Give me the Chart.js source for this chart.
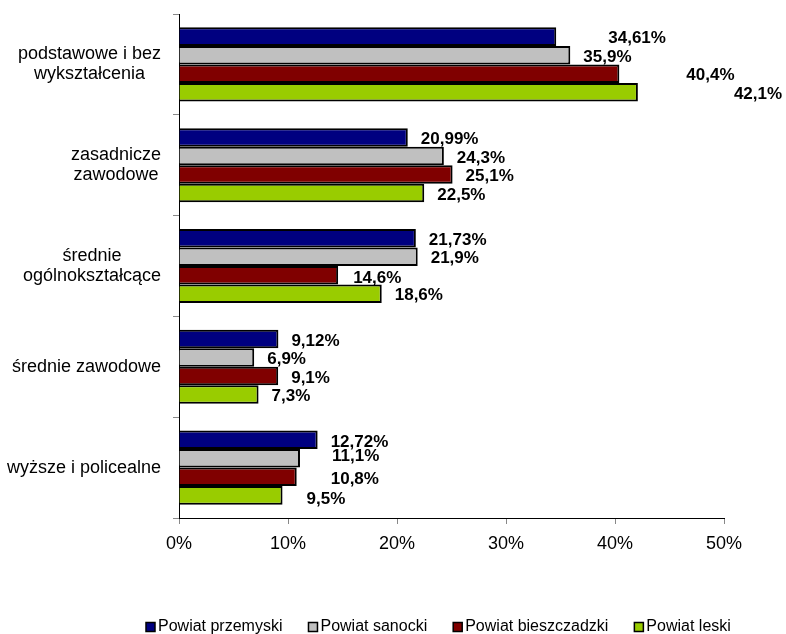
<!DOCTYPE html>
<html>
<head>
<meta charset="utf-8">
<script src="https://cdn.jsdelivr.net/npm/chart.js@4/dist/chart.umd.min.js"></script>
<style>
  html, body { margin: 0; padding: 0; background: #fff; }
  canvas { display: block; }
</style>
</head>
<body>
<canvas id="myChart" width="786" height="634"></canvas>
<script>
// categories (multi-line labels) and series
var categories = [
  ['podstawowe i bez', 'wykształcenia'],
  ['zasadnicze', 'zawodowe'],
  ['średnie', 'ogólnokształcące'],
  ['średnie zawodowe'],
  ['wyższe i policealne']
];
var seriesNames = ['Powiat przemyski', 'Powiat sanocki', 'Powiat bieszczadzki', 'Powiat leski'];
var przemyski    = [34.61, 20.99, 21.73, 9.12, 12.72];
var sanocki      = [35.9, 24.3, 21.9, 6.9, 11.1];
var bieszczadzki = [40.4, 25.1, 14.6, 9.1, 10.8];
var leski        = [42.1, 22.5, 18.6, 7.3, 9.5];
var xTicks = [0, 10, 20, 30, 40, 50];

var colors = ['#000080', '#C0C0C0', '#800000', '#99CC00'];
// extra nudges for the value labels (like the hand placed ones in the original)
var labelDx = [[39, 0, 0, 0, 0], [0, 0, 0, 0, 19], [54, 0, 2, 0, 21], [83, 0, 0, 0, 11]];
var labelDy = [[0, 0, 0, 0, 0], [0, 0, 0, 0, -4], [0, 0, 1, 0, 0], [0, 0, 0, 0, 2]];

var FONT = "'Liberation Sans', Arial, sans-serif";

function fmt(v) {
  return String(v).replace('.', ',') + '%';
}

var valueLabels = {
  id: 'valueLabels',
  afterDatasetsDraw: function(chart) {
    var ctx = chart.ctx;
    ctx.save();
    ctx.font = 'bold 17px ' + FONT;
    ctx.fillStyle = '#000';
    ctx.textAlign = 'left';
    ctx.textBaseline = 'middle';
    chart.data.datasets.forEach(function(ds, di) {
      var meta = chart.getDatasetMeta(di);
      meta.data.forEach(function(bar, i) {
        ctx.fillText(fmt(ds.data[i]), bar.x + 13 + labelDx[di][i], bar.y + 2 + labelDy[di][i]);
      });
    });
    ctx.restore();
  }
};

var catLabels = {
  id: 'catLabels',
  afterDraw: function(chart) {
    var ctx = chart.ctx;
    var yScale = chart.scales.y;
    ctx.save();
    ctx.font = '18px ' + FONT;
    ctx.fillStyle = '#000';
    ctx.textAlign = 'center';
    ctx.textBaseline = 'middle';
    var lh = 20;
    categories.forEach(function(lines, i) {
      var y = yScale.getPixelForValue(i);
      var maxW = 0;
      lines.forEach(function(l) { maxW = Math.max(maxW, ctx.measureText(l).width); });
      var cx = 161 - maxW / 2;
      var y0 = y - (lines.length - 1) * lh / 2;
      lines.forEach(function(l, k) { ctx.fillText(l, cx, y0 + k * lh); });
    });
    ctx.restore();
  }
};

var bottomLegend = {
  id: 'bottomLegend',
  afterDraw: function(chart) {
    var ctx = chart.ctx;
    ctx.save();
    ctx.font = '16px ' + FONT;
    ctx.textBaseline = 'middle';
    ctx.textAlign = 'left';
    var x = 146, y = 627;
    chart.data.datasets.forEach(function(ds) {
      ctx.fillStyle = ds.backgroundColor;
      ctx.fillRect(x, y - 4.5, 9, 9);
      ctx.strokeStyle = '#000';
      ctx.lineWidth = 1.5;
      ctx.strokeRect(x, y - 4.5, 9, 9);
      ctx.fillStyle = '#000';
      ctx.fillText(ds.label, x + 12, y);
      x += 12 + ctx.measureText(ds.label).width + 26;
    });
    ctx.restore();
  }
};

var seriesData = [przemyski, sanocki, bieszczadzki, leski];

var ctx = document.getElementById('myChart').getContext('2d');
var myChart = new Chart(ctx, {
  type: 'bar',
  data: {
    labels: categories.map(function(c) { return c.join(' '); }),
    datasets: seriesNames.map(function(name, i) {
      return {
        label: name,
        data: seriesData[i],
        backgroundColor: colors[i],
        borderColor: '#000',
        borderWidth: 2,
        categoryPercentage: 0.735,
        barPercentage: 1
      };
    })
  },
  options: {
    indexAxis: 'y',
    responsive: false,
    animation: false,
    devicePixelRatio: 1,
    layout: { padding: { top: 14, right: 62, bottom: 0, left: 0 } },
    plugins: {
      legend: { display: false },
      tooltip: { enabled: false }
    },
    scales: {
      y: {
        position: 'left',
        grid: { offset: true, drawOnChartArea: false, drawTicks: true, tickLength: 6, color: '#888' },
        border: { color: '#000', width: 1 },
        ticks: { display: false },
        afterFit: function(s) { s.width = 179; }
      },
      x: {
        min: xTicks[0],
        max: xTicks[xTicks.length - 1],
        afterBuildTicks: function(s) {
          s.ticks = xTicks.map(function(v) { return { value: v }; });
        },
        grid: { drawOnChartArea: false, drawTicks: true, tickLength: 6, color: '#888' },
        border: { color: '#000', width: 1 },
        ticks: {
          color: '#000',
          padding: 9,
          maxRotation: 0,
          font: { family: FONT, size: 18 },
          callback: function(v) { return v + '%'; }
        },
        afterFit: function(s) { s.height = 116; }
      }
    }
  },
  plugins: [valueLabels, catLabels, bottomLegend]
});
</script>
</body>
</html>
